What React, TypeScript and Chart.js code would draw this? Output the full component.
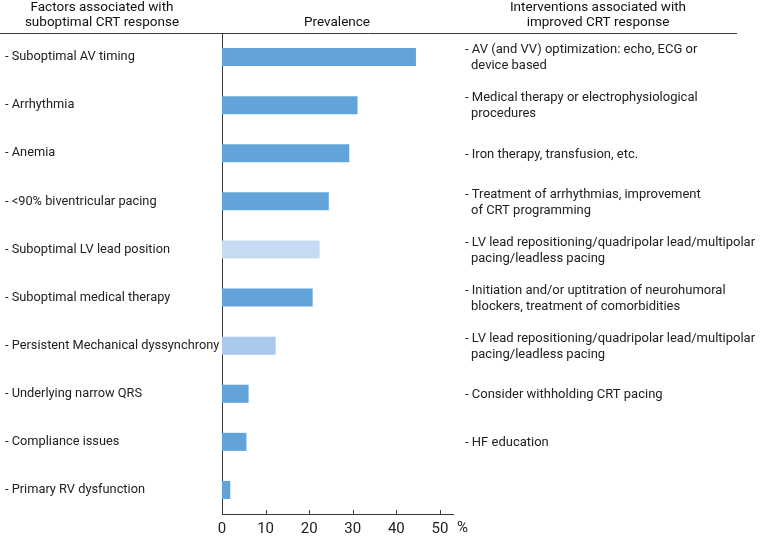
import React, { useEffect, useRef } from "react";
import { Chart, registerables } from "chart.js";

Chart.register(...registerables);

const factors = [
  "- Suboptimal AV timing",
  "- Arrhythmia",
  "- Anemia",
  "- <90% biventricular pacing",
  "- Suboptimal LV lead position",
  "- Suboptimal medical therapy",
  "- Persistent Mechanical dyssynchrony",
  "- Underlying narrow QRS",
  "- Compliance issues",
  "- Primary RV dysfunction",
];

const prevalence = [44.5, 31.1, 29.2, 24.5, 22.4, 20.8, 12.3, 6.1, 5.6, 1.9];

const barColors = [
  "#62a4da",
  "#62a4da",
  "#62a4da",
  "#62a4da",
  "#c6dbf2",
  "#62a4da",
  "#a9c9ee",
  "#62a4da",
  "#62a4da",
  "#62a4da",
];

const interventions: string[][] = [
  ["- AV (and VV) optimization: echo, ECG or", "device based"],
  ["- Medical therapy or electrophysiological", "procedures"],
  ["- Iron therapy, transfusion, etc."],
  ["- Treatment of arrhythmias, improvement", "of CRT programming"],
  ["- LV lead repositioning/quadripolar lead/multipolar", "pacing/leadless pacing"],
  ["- Initiation and/or uptitration of neurohumoral", "blockers, treatment of comorbidities"],
  ["- LV lead repositioning/quadripolar lead/multipolar", "pacing/leadless pacing"],
  ["- Consider withholding CRT pacing"],
  ["- HF education"],
  [],
];

const xTicks = [0, 10, 20, 30, 40, 50];

const leftHeader = ["Factors associated with", "suboptimal CRT response"];
const midHeader = "Prevalence";
const rightHeader = ["Interventions associated with", "improved CRT response"];
const unitLabel = "%";

const FONT = "Roboto, 'Noto Sans', sans-serif";
const TEXT = "#222222";
const LINE = "#3a3a3a";

const overlay = {
  id: "overlay",
  afterDraw(chart: any) {
    const ctx = chart.ctx;
    const area = chart.chartArea;
    const xs = chart.scales.x;
    const ys = chart.scales.y;
    ctx.save();
    // top rule
    ctx.strokeStyle = LINE;
    ctx.lineWidth = 1;
    ctx.beginPath();
    ctx.moveTo(0, area.top + 0.5);
    ctx.lineTo(737, area.top + 0.5);
    ctx.stroke();
    // inward tick marks
    xTicks.forEach((v) => {
      const px = Math.round(xs.getPixelForValue(v)) + 0.5;
      ctx.beginPath();
      ctx.moveTo(px, area.bottom);
      ctx.lineTo(px, area.bottom - 4);
      ctx.stroke();
    });
    // headers
    ctx.fillStyle = "#111111";
    ctx.font = `13.5px ${FONT}`;
    ctx.textAlign = "center";
    ctx.textBaseline = "middle";
    ctx.fillText(leftHeader[0], 102, 8);
    ctx.fillText(leftHeader[1], 102, 23);
    ctx.fillText(midHeader, 337, 23);
    ctx.fillText(rightHeader[0], 598, 8);
    ctx.fillText(rightHeader[1], 598, 23);
    // interventions
    ctx.fillStyle = TEXT;
    ctx.font = `13px ${FONT}`;
    ctx.textAlign = "left";
    interventions.forEach((lines, i) => {
      const cy = ys.getPixelForValue(i) + 1;
      if (lines.length === 1) {
        ctx.fillText(lines[0], 465, cy);
      } else if (lines.length === 2) {
        ctx.fillText(lines[0], 465, cy - 8);
        ctx.fillText(lines[1], 471, cy + 8);
      }
    });
    // unit
    ctx.font = `15px ${FONT}`;
    ctx.textBaseline = "top";
    ctx.fillText(unitLabel, 457, area.bottom + 7);
    ctx.restore();
  },
};

export default function App() {
  const ref = useRef<HTMLCanvasElement | null>(null);
  useEffect(() => {
    document.body.style.margin = "0";
    const canvas = ref.current;
    if (!canvas) return;
    const chart = new Chart(canvas, {
      type: "bar",
      data: {
        labels: factors,
        datasets: [
          {
            data: prevalence,
            backgroundColor: barColors,
            borderWidth: 0,
            categoryPercentage: 1,
            barPercentage: 0.375,
          },
        ],
      },
      options: {
        indexAxis: "y",
        responsive: false,
        animation: false,
        layout: { padding: { left: 5, top: 33, right: 308, bottom: 0 } },
        plugins: {
          legend: { display: false },
          tooltip: { enabled: false },
        },
        scales: {
          x: {
            min: 0,
            max: 53,
            afterBuildTicks: (scale: any) => {
              scale.ticks = xTicks.map((v) => ({ value: v }));
            },
            afterFit: (scale: any) => {
              scale.height = 23;
            },
            grid: { display: false, drawTicks: false },
            border: { display: true, color: LINE, width: 1 },
            ticks: {
              padding: 6,
              color: TEXT,
              font: { family: FONT, size: 15 },
              maxRotation: 0,
            },
          },
          y: {
            afterFit: (scale: any) => {
              scale.width = 217;
            },
            grid: { display: false, drawTicks: false },
            border: { display: true, color: LINE, width: 1 },
            ticks: {
              crossAlign: "far",
              color: TEXT,
              font: { family: FONT, size: 12.8 },
              autoSkip: false,
            },
          },
        },
      },
      plugins: [overlay],
    });
    return () => chart.destroy();
  }, []);
  return (
    <canvas
      ref={ref}
      width={761}
      height={537}
      style={{ display: "block", width: 761, height: 537 }}
    />
  );
}
